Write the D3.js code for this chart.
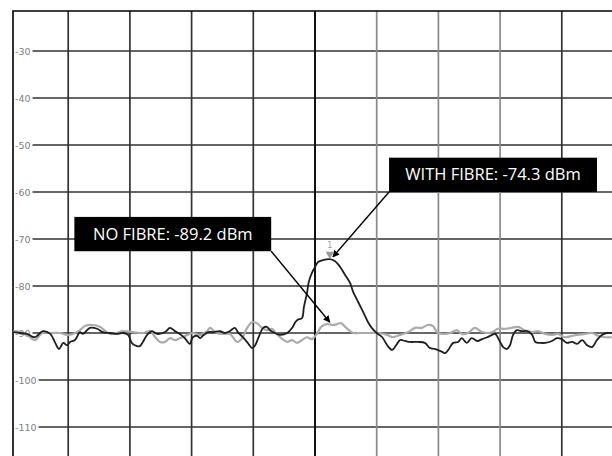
<!DOCTYPE html>
<html>
<head>
<meta charset="utf-8">
<script src="https://d3js.org/d3.v7.min.js"></script>
<style>
  body { margin: 0; background: #fff; }
  .tick-label { font-family: "DejaVu Sans", sans-serif; font-size: 9.5px; fill: #808080; }
  .note { font-family: "Open Sans", sans-serif; font-size: 16.5px; fill: #fff; }
</style>
</head>
<body>
<svg width="612" height="456"></svg>
<script>
// y ticks (dBm) and x grid divisions
var yTicks = [-30, -40, -50, -60, -70, -80, -90, -100, -110];
var xDivs = [-4, -3, -2, -1, 0, 1, 2, 3, 4];

// WITH FIBRE trace (black): x in divisions, level in dBm
var withX = [-4.89,-4.78,-4.67,-4.54,-4.41,-4.29,-4.21,-4.15,-4.08,-4.02,-3.97,-3.89,-3.81,-3.76,-3.65,-3.53,-3.44,-3.32,-3.21,-3.11,
  -3.03,-2.97,-2.92,-2.84,-2.79,-2.72,-2.64,-2.56,-2.43,-2.35,-2.27,-2.19,-2.11,-2.03,-1.98,-1.91,-1.86,-1.82,-1.73,-1.65,
  -1.54,-1.46,-1.38,-1.30,-1.25,-1.17,-1.09,-1.02,-0.97,-0.92,-0.84,-0.78,-0.73,-0.65,-0.57,-0.45,-0.37,-0.32,-0.28,-0.21,
  -0.18,-0.13,-0.10,-0.05,0.00,0.05,0.13,0.24,0.32,0.41,0.49,0.57,0.62,0.70,0.78,0.86,0.92,1.00,1.09,1.17,
  1.25,1.33,1.38,1.46,1.54,1.67,1.78,1.86,1.94,2.06,2.11,2.16,2.24,2.32,2.38,2.46,2.54,2.63,2.71,2.79,
  2.87,2.92,3.00,3.05,3.11,3.16,3.21,3.27,3.35,3.44,3.52,3.57,3.65,3.73,3.84,3.92,4.00,4.08,4.17,4.25,
  4.33,4.41,4.49,4.57,4.65,4.73,4.81];
var withY = [-89.8,-90.0,-90.2,-90.9,-89.6,-90.2,-92.1,-93.4,-92.1,-92.6,-91.9,-91.5,-89.8,-90.2,-88.9,-89.1,-89.8,-90.0,-90.2,-90.0,
  -90.4,-92.1,-92.6,-92.8,-91.9,-90.4,-89.6,-90.2,-89.8,-88.9,-89.6,-90.2,-91.1,-92.3,-90.9,-90.6,-91.1,-90.6,-89.8,-89.8,
  -89.6,-90.0,-89.6,-88.9,-89.8,-90.9,-92.1,-93.2,-92.6,-91.1,-88.9,-88.7,-89.4,-90.0,-90.4,-90.0,-88.9,-87.7,-87.2,-86.8,
  -84.5,-81.5,-79.1,-77.2,-76.0,-74.9,-74.5,-74.3,-74.7,-76.0,-77.7,-79.4,-81.3,-83.4,-85.5,-87.7,-88.9,-90.0,-90.9,-92.6,
  -93.6,-92.3,-91.5,-91.7,-91.9,-91.9,-92.1,-93.2,-93.4,-94.0,-94.3,-93.6,-92.1,-91.9,-91.1,-92.1,-91.1,-91.7,-91.3,-90.9,
  -90.4,-90.2,-91.9,-93.0,-93.4,-92.6,-90.4,-89.4,-89.6,-89.6,-90.4,-91.9,-92.1,-92.1,-91.7,-91.1,-91.3,-92.1,-91.9,-92.3,
  -91.5,-92.6,-93.0,-91.5,-90.4,-90.0,-90.0];

// NO FIBRE trace (grey)
var noX = [-4.89,-4.78,-4.62,-4.54,-4.42,-4.29,-4.13,-4.02,-3.92,-3.81,-3.73,-3.61,-3.48,-3.44,-3.32,-3.21,-3.11,-2.95,-2.79,-2.67,
  -2.59,-2.51,-2.43,-2.35,-2.27,-2.19,-2.07,-1.98,-1.86,-1.75,-1.70,-1.62,-1.54,-1.38,-1.33,-1.26,-1.18,-1.10,-1.02,-0.94,
  -0.86,-0.78,-0.70,-0.62,-0.53,-0.45,-0.37,-0.29,-0.21,-0.13,-0.05,0.03,0.10,0.19,0.29,0.36,0.42,0.49,0.55,0.62,
  0.73,0.89,1.05,1.17,1.26,1.38,1.51,1.62,1.73,1.83,1.91,1.99,2.11,2.19,2.30,2.38,2.48,2.59,2.71,2.81,
  2.88,2.96,3.08,3.19,3.29,3.40,3.52,3.61,3.73,3.84,3.94,4.05,4.17,4.25,4.38,4.49,4.59,4.70,4.81];
var noY = [-89.6,-89.8,-90.9,-91.5,-90.0,-90.0,-90.0,-90.4,-90.2,-89.4,-88.5,-88.3,-88.7,-89.1,-90.2,-90.0,-89.6,-89.8,-90.0,-89.6,
  -90.9,-91.9,-91.9,-91.1,-91.5,-91.1,-90.4,-90.0,-90.4,-89.6,-88.9,-89.8,-90.2,-90.2,-90.9,-91.9,-91.1,-88.9,-87.7,-87.9,
  -88.9,-89.4,-89.1,-90.2,-91.3,-91.9,-91.5,-92.1,-91.5,-90.9,-91.3,-90.2,-88.7,-88.1,-88.3,-88.1,-87.9,-88.7,-89.4,-90.0,
  -90.0,-90.0,-90.0,-90.4,-90.9,-90.4,-89.8,-88.9,-88.9,-88.3,-88.5,-90.0,-90.2,-90.0,-89.4,-90.2,-90.0,-88.9,-89.8,-90.0,
  -89.8,-89.1,-89.1,-88.9,-88.7,-89.4,-89.8,-89.6,-90.2,-90.4,-90.2,-90.9,-90.6,-90.4,-90.2,-90.0,-90.6,-90.9,-90.9];

// marker readouts
var notes = [
  { label: "WITH FIBRE: -74.3 dBm", box: [1.20, 4.57, -52.7, -60.0], tip: [0.29, -73.8] },
  { label: "NO FIBRE: -89.2 dBm", box: [-3.90, -0.71, -65.3, -72.6], tip: [0.24, -87.7] }
];
var peak = { x: 0.24, y: -74.3 };

var svg = d3.select("svg");
var x = d3.scaleLinear().domain([-5, 5]).range([6.5, 623.5]);
var y = d3.scaleLinear().domain([-30, -110]).range([51, 427]);
var frameL = 13, frameT = 11, W = 612, H = 456;

// labels first so the grid lines can start right after them
var gridG = svg.append("g");
var labels = svg.append("g").selectAll("text").data(yTicks).enter().append("text")
  .attr("class", "tick-label")
  .attr("x", 15).attr("y", d => y(d) + 3.5)
  .text(d => d);
labels.each(function(d) {
  var w = this.getComputedTextLength();
  gridG.append("line")
    .attr("x1", 15 + w + 2).attr("x2", W)
    .attr("y1", y(d)).attr("y2", y(d))
    .attr("stroke", "#333").attr("stroke-width", 1.7);
});

// vertical grid
var lightDivs = [1, 2, 3];
svg.append("g").selectAll("line").data(xDivs).enter().append("line")
  .attr("x1", d => x(d)).attr("x2", d => x(d))
  .attr("y1", frameT).attr("y2", H)
  .attr("stroke", d => d === 0 ? "#111" : (lightDivs.indexOf(d) >= 0 ? "#8a8a8a" : "#333"))
  .attr("stroke-width", d => d === 0 ? 2 : 1.7);

// frame
svg.append("path")
  .attr("d", "M" + frameL + "," + H + "V" + frameT + "H" + W)
  .attr("fill", "none").attr("stroke", "#000").attr("stroke-width", 1.6);

// traces
var line = d3.line().x(d => x(d[0])).y(d => y(d[1])).curve(d3.curveCatmullRom);
svg.append("path")
  .datum(noX.map((v, i) => [v, noY[i]]))
  .attr("d", line).attr("fill", "none")
  .attr("stroke", "#ababab").attr("stroke-width", 2.2);
svg.append("path")
  .datum(withX.map((v, i) => [v, withY[i]]))
  .attr("d", line).attr("fill", "none")
  .attr("stroke", "#1e1e1e").attr("stroke-width", 1.8);

// peak marker
svg.append("path")
  .attr("d", d3.symbol().type(d3.symbolTriangle).size(30))
  .attr("transform", "translate(" + x(peak.x) + "," + (y(peak.y) - 5) + ") rotate(180)")
  .attr("fill", "#999");
svg.append("text")
  .attr("x", x(peak.x)).attr("y", y(peak.y) - 11)
  .attr("text-anchor", "middle")
  .attr("font-family", "DejaVu Sans").attr("font-size", 8).attr("fill", "#999")
  .text("1");

// annotation boxes and arrows
svg.append("defs").append("marker")
  .attr("id", "arr").attr("viewBox", "0 0 10 10")
  .attr("refX", 9).attr("refY", 5)
  .attr("markerWidth", 5).attr("markerHeight", 5)
  .attr("orient", "auto")
  .append("path").attr("d", "M0,0L10,5L0,10z").attr("fill", "#000");

notes.forEach(function(n, i) {
  var bx0 = x(n.box[0]), bx1 = x(n.box[1]), by0 = y(n.box[2]), by1 = y(n.box[3]);
  svg.append("rect")
    .attr("x", bx0).attr("y", by0)
    .attr("width", bx1 - bx0).attr("height", by1 - by0)
    .attr("fill", "#000");
  svg.append("text").attr("class", "note")
    .attr("x", (bx0 + bx1) / 2).attr("y", (by0 + by1) / 2 + 5.5)
    .attr("text-anchor", "middle")
    .text(n.label);
  var sx = i === 0 ? bx0 : bx1;
  svg.append("line")
    .attr("x1", sx).attr("y1", by1)
    .attr("x2", x(n.tip[0])).attr("y2", y(n.tip[1]))
    .attr("stroke", "#000").attr("stroke-width", 1.4)
    .attr("marker-end", "url(#arr)");
});
</script>
</body>
</html>
